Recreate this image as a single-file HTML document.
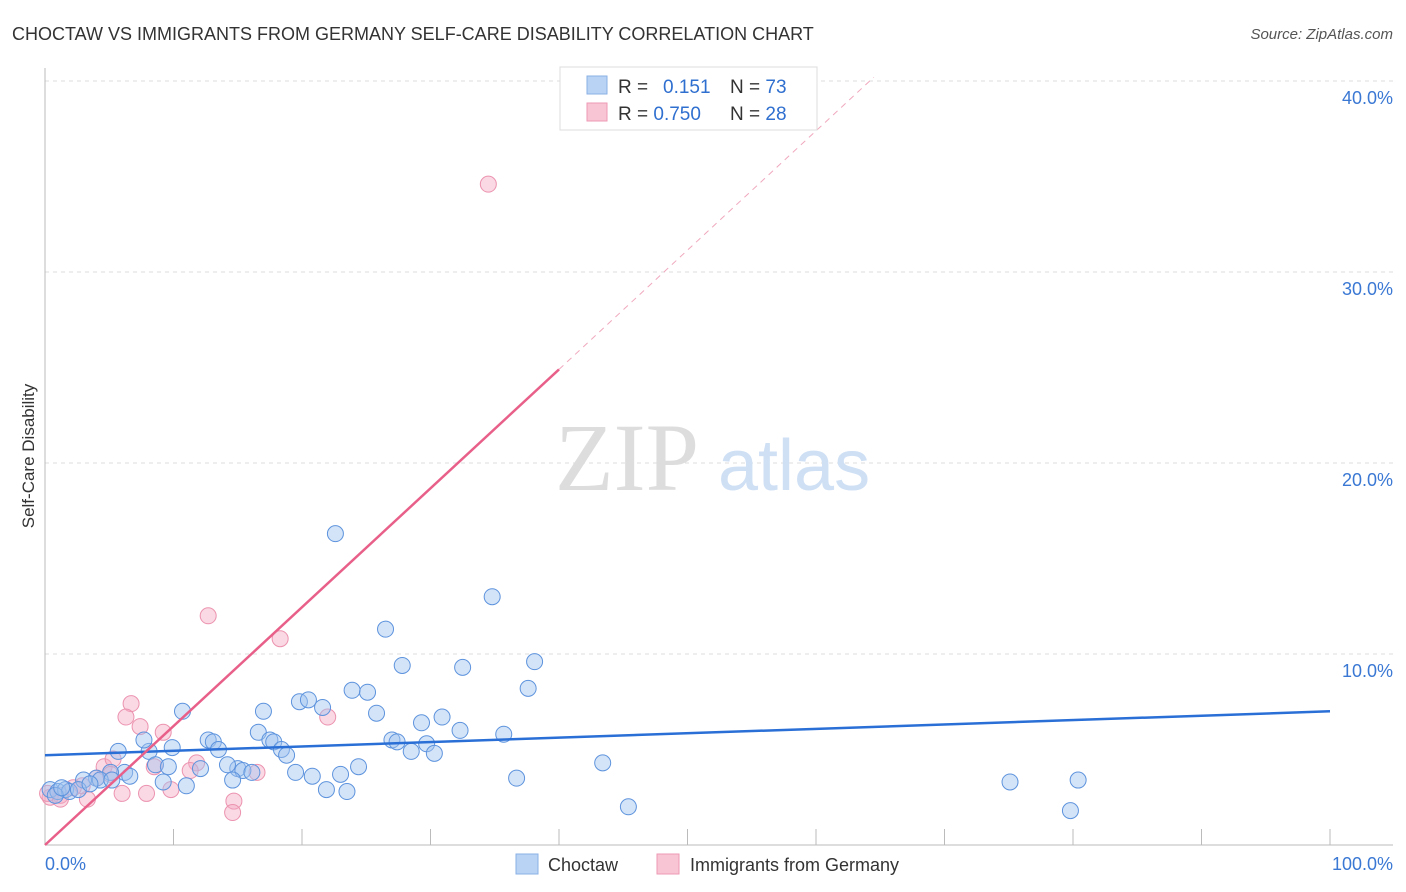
<!DOCTYPE html>
<html><head><meta charset="utf-8"><style>
body{margin:0;background:#fff;font-family:"Liberation Sans",sans-serif;}
#wrap{position:relative;width:1406px;height:892px;overflow:hidden;}
svg{position:absolute;left:0;top:0;}
</style></head><body>
<div id="wrap">
<svg id="svg" width="1406" height="892">
<text x="12" y="40" font-size="18" fill="#333">CHOCTAW VS IMMIGRANTS FROM GERMANY SELF-CARE DISABILITY CORRELATION CHART</text>
<text x="1393" y="39" font-size="15" fill="#555" text-anchor="end" font-style="italic">Source: ZipAtlas.com</text>
<text x="34" y="456" font-size="17" fill="#333" text-anchor="middle" transform="rotate(-90 34 456)">Self-Care Disability</text>
<g id="grid"></g>
<g><text x="555" y="490" font-size="96" fill="#ddd" font-family="Liberation Serif,serif">ZIP</text><text x="718" y="490" font-size="72" fill="#cfe0f5">atlas</text></g>
<g id="pts"></g>
<g id="trend"></g>
<g>
<rect x="560" y="67" width="257" height="63" fill="#fff" stroke="#ddd"/>
<rect x="587" y="76" width="20" height="18" fill="#b9d3f5" stroke="#8ab0e6"/>
<rect x="587" y="103" width="20" height="18" fill="#f8c5d5" stroke="#ee9ab5"/>
<text x="618" y="93" font-size="19" fill="#333">R = <tspan x="663" fill="#2f6fcf">0.151</tspan></text>
<text x="730" y="93" font-size="19" fill="#333">N = <tspan fill="#2f6fcf">73</tspan></text>
<text x="618" y="120" font-size="19" fill="#333">R = <tspan fill="#2f6fcf">0.750</tspan></text>
<text x="730" y="120" font-size="19" fill="#333">N = <tspan fill="#2f6fcf">28</tspan></text>
</g>
<g>
<rect x="516" y="854" width="22" height="20" fill="#b9d3f5" stroke="#8ab0e6"/>
<text x="548" y="871" font-size="18" fill="#333">Choctaw</text>
<rect x="657" y="854" width="22" height="20" fill="#f8c5d5" stroke="#ee9ab5"/>
<text x="690" y="871" font-size="18" fill="#333">Immigrants from Germany</text>
</g>
</svg></div>
<script>
const blueX=[22.6,34.8,26.5,27.8,32.5,38.1,37.6,23.9,25.1,19.8,20.5,21.6,17.0,10.7,25.8,30.9,29.3,32.3,35.7,16.6,12.7,13.1,17.5,17.8,27.0,27.4,29.7,13.5,9.9,8.1,5.7,18.4,18.8,28.5,30.3,7.7,8.6,9.6,12.1,15.0,14.2,15.4,16.1,24.4,19.5,20.8,23.0,6.2,6.6,5.1,4.0,3.0,4.3,9.2,11.0,14.6,21.9,23.5,36.7,43.4,45.4,75.1,80.4,79.8,0.4,1.0,1.6,1.9,2.6,3.5,0.8,5.2,1.3];
const blueY=[16.3,13.0,11.3,9.4,9.3,9.6,8.2,8.1,8.0,7.5,7.6,7.2,7.0,7.0,6.9,6.7,6.4,6.0,5.8,5.9,5.5,5.4,5.5,5.4,5.5,5.4,5.3,5.0,5.1,4.9,4.9,5.0,4.7,4.9,4.8,5.5,4.2,4.1,4.0,4.0,4.2,3.9,3.8,4.1,3.8,3.6,3.7,3.8,3.6,3.8,3.5,3.4,3.4,3.3,3.1,3.4,2.9,2.8,3.5,4.3,2.0,3.3,3.4,1.8,2.9,2.8,2.9,2.8,2.9,3.2,2.6,3.4,3.0];
const pinkX=[34.5,12.7,18.3,6.7,6.3,7.4,9.2,22.0,8.5,11.8,16.5,4.6,5.3,6.0,7.9,9.8,14.7,14.6,3.3,2.9,2.2,1.2,0.4,0.2,4.0,5.1,11.3,1.2];
const pinkY=[34.6,12.0,10.8,7.4,6.7,6.2,5.9,6.7,4.1,4.3,3.8,4.1,4.5,2.7,2.7,2.9,2.3,1.7,2.4,3.1,3.0,2.6,2.5,2.7,3.5,3.7,3.9,2.4];
const yTicks=[10,20,30,40];
const yTickLabels=["10.0%","20.0%","30.0%","40.0%"];
const xTicks=[10,20,30,40,50,60,70,80,90,100];
const blueTrend=[[0,4.7],[100,7.0]];
const pinkTrend=[[0,0],[40,24.9]];
const pinkTrendDash=[[40,24.9],[64.5,40.2]];
const X=v=>45+v*12.85, Y=v=>845-v*19.1;
const NS="http://www.w3.org/2000/svg";
function mk(t,a,p){const e=document.createElementNS(NS,t);for(const k in a)e.setAttribute(k,a[k]);p.appendChild(e);return e;}
const g=document.getElementById('grid');
yTicks.forEach((t,i)=>{
 const l=mk('line',{x1:45,x2:1393,y1:Y(t),y2:Y(t),stroke:'#ddd','stroke-dasharray':'4,4'},g);
 
 
 const tx=mk('text',{x:1393,y:Y(t)+23,'font-size':18,fill:'#3a78d4','text-anchor':'end'},g);
 tx.textContent=yTickLabels[i];
 
 
});
const ax=mk('line',{x1:45,x2:45,y1:68,y2:845,stroke:'#bbb'},g);


const bx=mk('line',{x1:45,x2:1393,y1:845,y2:845,stroke:'#bbb'},g);


xTicks.forEach(t=>{const l=mk('line',{x1:X(t),x2:X(t),y1:829,y2:845,stroke:'#bbb'},g);
 
 });
[["0.0%",45,"start"],["100.0%",1393,"end"]].forEach(a=>{const t=mk('text',{x:a[1],y:870,'font-size':18,fill:'#3a78d4','text-anchor':a[2]},g);t.textContent=a[0];
 
 });
const p=document.getElementById('pts');
pinkX.forEach((v,i)=>{const c=mk('circle',{cx:X(v),cy:Y(pinkY[i]),r:8,fill:'rgba(244,170,195,0.45)',stroke:'#ec93af','stroke-width':1},p);
 
 });
blueX.forEach((v,i)=>{const c=mk('circle',{cx:X(v),cy:Y(blueY[i]),r:8,fill:'rgba(160,195,240,0.45)',stroke:'#5d93dd','stroke-width':1},p);
 
 });
const tr=document.getElementById('trend');
const l1=mk('line',{x1:X(blueTrend[0][0]),y1:Y(blueTrend[0][1]),x2:X(blueTrend[1][0]),y2:Y(blueTrend[1][1]),stroke:'#2a6fd6','stroke-width':2.5},tr);


const l2=mk('line',{x1:X(pinkTrend[0][0]),y1:Y(pinkTrend[0][1]),x2:X(pinkTrend[1][0]),y2:Y(pinkTrend[1][1]),stroke:'#e8608a','stroke-width':2.5},tr);


const l3=mk('line',{x1:X(pinkTrendDash[0][0]),y1:Y(pinkTrendDash[0][1]),x2:X(pinkTrendDash[1][0]),y2:Y(pinkTrendDash[1][1]),stroke:'#f0a8bd','stroke-width':1,'stroke-dasharray':'6,5'},tr);


</script>
</body></html>
